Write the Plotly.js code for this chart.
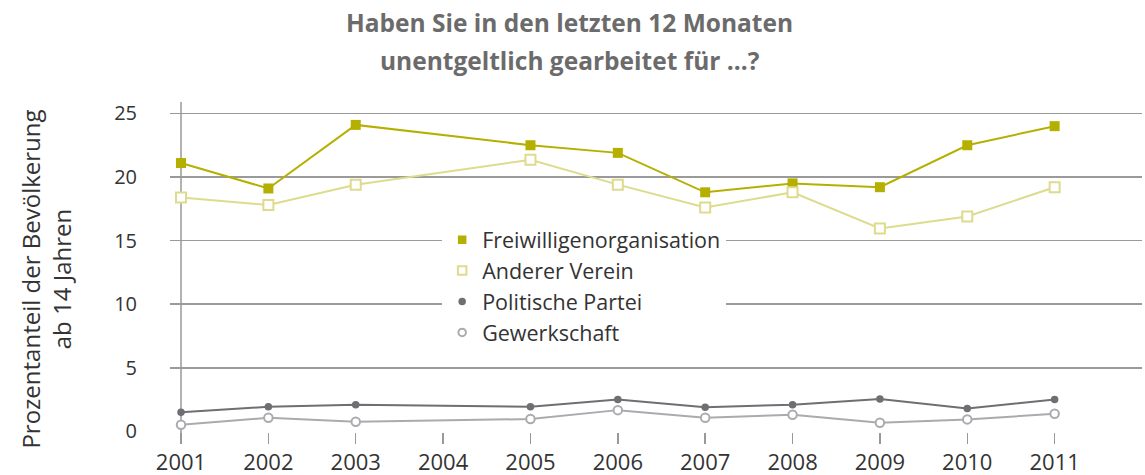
<!DOCTYPE html>
<html>
<head>
<meta charset="utf-8">
<script src="https://cdn.plot.ly/plotly-3.0.1.min.js"></script>
<style>html,body{margin:0;padding:0;background:#fff;}#chart{width:1145px;height:475px;}</style>
</head>
<body>
<div id="chart"></div>
<script>
// ---- data ----
const years = [2001, 2002, 2003, 2005, 2006, 2007, 2008, 2009, 2010, 2011];
const tickYears = [2001, 2002, 2003, 2004, 2005, 2006, 2007, 2008, 2009, 2010, 2011];
const seriesNames = ["Freiwilligenorganisation", "Anderer Verein", "Politische Partei", "Gewerkschaft"];
const freiwillig = [21.1, 19.1, 24.1, 22.5, 21.9, 18.8, 19.5, 19.2, 22.5, 24.0];
const andererVerein = [18.4, 17.8, 19.4, 21.35, 19.4, 17.6, 18.8, 15.95, 16.9, 19.2];
const partei = [1.5, 1.93, 2.1, 1.93, 2.5, 1.9, 2.1, 2.55, 1.8, 2.5];
const gewerkschaft = [0.52, 1.07, 0.75, 0.97, 1.67, 1.07, 1.3, 0.68, 0.94, 1.38];
const yTicks = [0, 5, 10, 15, 20, 25];
const titleLines = ["Haben Sie in den letzten 12 Monaten", "unentgeltlich gearbeitet für …?"];
const yTitle = "Prozentanteil der Bevölkerung<br>ab 14 Jahren";

const FONT = "Open Sans, Noto Sans, sans-serif";
const cols = ["#b5b000", "#dedb8e", "#6e6e73", "#ababaf"];
const series = [freiwillig, andererVerein, partei, gewerkschaft];
const symbols = ["square", "square", "circle", "circle"];
const filled = [true, false, true, false];
const sizes = [10, 10, 7.5, 8.5];

const traces = [];
series.forEach((vals, i) => {
  traces.push({
    x: years, y: vals, type: "scatter", mode: "lines+markers",
    name: seriesNames[i], showlegend: false,
    line: {color: cols[i], width: 2},
    marker: {symbol: symbols[i], size: sizes[i], color: filled[i] ? cols[i] : "#ffffff",
             line: {color: cols[i], width: filled[i] ? 0 : 2}},
    cliponaxis: false
  });
});
// legend-only entries (marker only)
series.forEach((vals, i) => {
  traces.push({
    x: [null], y: [null], type: "scatter", mode: "markers",
    name: seriesNames[i], showlegend: true,
    marker: {symbol: symbols[i], size: (i < 2 ? 8.5 : 7.5), color: filled[i] ? cols[i] : "#ffffff",
             line: {color: cols[i], width: filled[i] ? 0 : 2}}
  });
});

const layout = {
  width: 1145, height: 475,
  margin: {l: 170, r: 3, t: 102, b: 43},
  paper_bgcolor: "#ffffff", plot_bgcolor: "#ffffff",
  font: {family: FONT, color: "#333333"},
  xaxis: {
    range: [2000.874, 2012.0],
    tickmode: "array", tickvals: tickYears, ticktext: tickYears.map(String),
    showgrid: false, zeroline: false, showline: false,
    ticks: "outside", ticklen: 11, tickwidth: 1.5, tickcolor: "#999999",
    tickfont: {family: FONT, size: 22, color: "#333333"}
  },
  yaxis: {
    range: [-0.05, 25.9],
    tickmode: "array", tickvals: yTicks, ticktext: yTicks.map(String),
    showgrid: true, gridcolor: "#9a9a9a", gridwidth: 1.5,
    zeroline: false, showline: false,
    ticks: "", ticklabelstandoff: 32,
    tickfont: {family: FONT, size: 20, color: "#333333"}
  },
  showlegend: true,
  legend: {
    x: 0.28, xanchor: "left", y: 0.645, yanchor: "top",
    bgcolor: "#ffffff", borderwidth: 0,
    font: {family: FONT, size: 21.5, color: "#333333"},
    tracegroupgap: 0, itemclick: false
  },
  shapes: [{
    type: "line", xref: "x", yref: "paper", x0: 2001, x1: 2001, y0: -0.034, y1: 1,
    line: {color: "#999999", width: 1.5}, layer: "below"
  }],
  annotations: [
    {
      text: "<b>" + titleLines[0] + "</b>", xref: "paper", yref: "paper", x: 0.4115, y: 1.2424,
      xanchor: "center", yanchor: "middle", showarrow: false,
      font: {family: FONT, size: 24.5, color: "#6b6b6b"}
    },
    {
      text: "<b>" + titleLines[1] + "</b>", xref: "paper", yref: "paper", x: 0.4115, y: 1.127,
      xanchor: "center", yanchor: "middle", showarrow: false,
      font: {family: FONT, size: 24.5, color: "#6b6b6b"}
    },
    {
      text: yTitle,
      xref: "paper", yref: "paper", x: -0.128, y: 0.4636,
      xanchor: "center", yanchor: "middle", textangle: -90, showarrow: false,
      font: {family: FONT, size: 24, color: "#333333"}
    }
  ]
};

Plotly.newPlot("chart", traces, layout, {displayModeBar: false, staticPlot: true});
</script>
</body>
</html>
